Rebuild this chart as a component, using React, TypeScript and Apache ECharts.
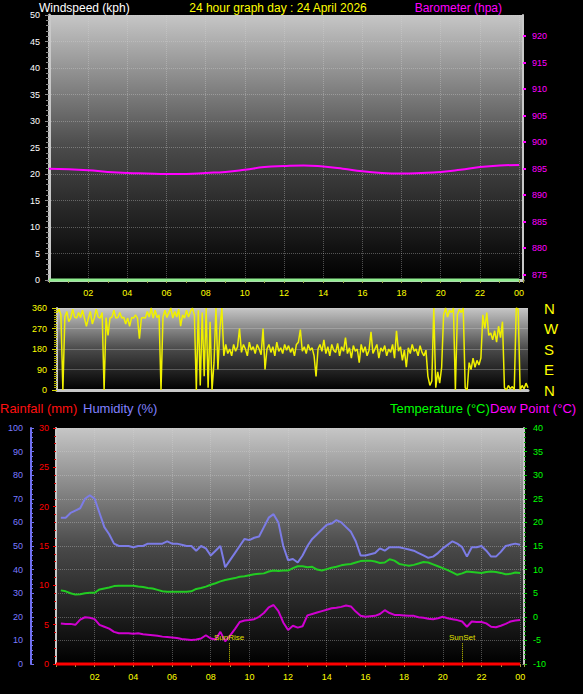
import { useEffect, useRef } from "react";
import * as echarts from "echarts";

const FONT = '"Liberation Sans", Arial, sans-serif';
const FRAME = "#c8c8c8";
const GRID_LINE = "rgba(215,215,215,0.35)";

// hourly readings (0h .. 24h)
const BAROMETER = [
    895.0, 894.9, 894.7, 894.4, 894.2, 894.1, 894.0, 894.0, 894.2, 894.4, 894.8, 895.3,
    895.5, 895.6, 895.4, 895.0, 894.5, 894.2, 894.1, 894.2, 894.4, 894.8, 895.3, 895.6, 895.7,
];
const WIND_SPEED = [0, 0, 0, 0, 0, 0, 0, 0, 0, 0, 0, 0, 0, 0, 0, 0, 0, 0, 0, 0, 0, 0, 0, 0, 0];
const RAINFALL = [0, 0, 0, 0, 0, 0, 0, 0, 0, 0, 0, 0, 0, 0, 0, 0, 0, 0, 0, 0, 0, 0, 0, 0, 0];

// wind direction every 0.1 h from 0h
const DIR_STEP = 0.1;
const DIRECTION = [
    340, 355, 330, 0, 320, 345, 300, 316, 355, 320, 316, 340, 318, 350, 316, 280, 316, 345, 290, 316,
    355, 320, 316, 340, 0, 318, 240, 316, 320, 350, 316, 318, 340, 316, 320, 290, 316, 280, 318, 316,
    330, 316, 225, 316, 318, 316, 345, 320, 360, 316, 350, 318, 330, 0, 320, 350, 318, 340, 360, 316,
    345, 320, 355, 280, 330, 316, 350, 320, 345, 360, 330, 0, 350, 20, 340, 60, 360, 10, 300, 0,
    120, 360, 90, 270, 360, 150, 200, 160, 180, 150, 200, 170, 190, 270, 165, 200, 180, 150, 210, 175,
    190, 160, 200, 180, 155, 270, 90, 180, 200, 165, 190, 150, 210, 170, 185, 160, 200, 175, 195, 165,
    185, 150, 200, 210, 265, 170, 190, 160, 200, 175, 185, 150, 60, 180, 200, 170, 220, 160, 190, 150,
    200, 175, 165, 205, 150, 190, 170, 230, 160, 185, 140, 195, 170, 180, 120, 200, 165, 190, 150, 175,
    255, 160, 180, 200, 140, 185, 170, 195, 150, 180, 165, 200, 140, 260, 170, 190, 130, 175, 100, 185,
    160, 200, 170, 180, 150, 195, 165, 150, 175, 60, 20, 40, 360, 10, 80, 30, 100, 330, 360, 320,
    350, 340, 360, 0, 330, 355, 340, 360, 10, 0, 120, 90, 140, 100, 130, 110, 140, 330, 270, 340,
    240, 250, 220, 260, 210, 280, 230, 300, 10, 0, 20, 5, 15, 0, 360, 355, 0, 20, 5, 30, 10,
];

// quarter-hour readings from 0.25h to 24h
const Q_STEP = 0.25;
const HUMIDITY = [
    62, 62, 64, 65, 66, 70, 71.5, 70, 64, 58, 55, 51, 50, 50, 50, 49.5, 50, 50, 51, 51,
    51, 51, 52, 51, 51, 50.5, 50, 50, 48, 50, 49, 46, 48, 50, 41, 44, 47, 50, 53, 52.5,
    53.5, 54, 58, 62, 63.5, 60, 50, 44, 44.5, 43, 46, 50, 53, 55, 57, 59, 59.5, 61, 60, 58,
    56, 52, 46, 46, 46.5, 47, 49, 48, 49.5, 49.5, 49.5, 49, 48.5, 48, 47, 46, 45, 45.5, 47, 49,
    50.5, 52, 51, 49.5, 45.5, 49.5, 49.5, 50, 48, 45.5, 45.5, 47.5, 50, 50.5, 51, 50.5,
];
const TEMPERATURE = [
    5.6, 5.4, 5.0, 4.7, 4.8, 5.0, 5.1, 5.1, 5.8, 6.0, 6.2, 6.5, 6.6, 6.6, 6.6, 6.6, 6.4, 6.3, 6.1, 6.0,
    5.7, 5.4, 5.3, 5.3, 5.3, 5.3, 5.3, 5.4, 5.9, 6.1, 6.4, 6.8, 7.1, 7.5, 7.8, 8.0, 8.2, 8.5, 8.6, 8.8,
    9.0, 9.1, 9.2, 9.6, 9.8, 9.7, 9.8, 9.8, 10.3, 10.7, 10.7, 10.5, 10.6, 10.0, 9.8, 10.1, 10.4, 10.6, 10.9, 11.1,
    11.2, 11.5, 11.8, 11.9, 11.9, 11.7, 11.4, 11.5, 12.2, 11.9, 11.2, 11.0, 10.8, 11.0, 11.3, 11.6, 11.5, 11.1, 10.7, 10.3,
    9.9, 9.4, 8.9, 9.2, 9.6, 9.5, 9.4, 9.3, 9.5, 9.6, 9.5, 9.3, 9.0, 9.1, 9.4, 9.3,
];
const DEW_POINT = [
    -1.4, -1.5, -1.5, -1.7, -0.6, -0.1, -0.2, -0.5, -1.7, -2.1, -2.5, -3.2, -3.5, -3.5, -3.5, -3.6, -3.5, -3.7, -3.8, -3.9,
    -4.0, -4.2, -4.3, -4.4, -4.5, -4.7, -4.8, -4.9, -4.8, -4.6, -3.9, -4.6, -4.8, -3.2, -5.2, -4.0, -2.6, -1.1, -0.8, -0.7,
    -0.5, 0.0, 0.8, 2.0, 2.5, 1.2, -1.2, -2.8, -1.9, -2.3, -2.0, 0.3, 0.6, 0.9, 1.2, 1.5, 1.8, 1.9, 2.1, 2.4,
    2.2, 1.1, 0.2, 0.0, 0.1, 0.2, 0.6, 1.4, 0.8, 0.4, 0.4, 0.3, 0.2, 0.2, -0.1, -0.2, -0.4, -0.5, -0.3, 0.0,
    -0.3, -0.5, -0.7, -1.0, -2.1, -1.0, -1.1, -1.1, -1.4, -2.1, -2.2, -1.9, -1.5, -1.0, -0.8, -0.7,
];

const SUNRISE = 8.95;
const SUNSET = 21.0;
const BARO_TICKS = [875, 880, 885, 890, 895, 900, 905, 910, 915, 920];
const COMPASS: Record<number, string> = { 360: "N", 270: "W", 180: "S", 90: "E", 0: "N" };

const hourly = (arr: number[]) => arr.map((v, i) => [i, v]);
const quarter = (arr: number[]) => arr.map((v, i) => [(i + 1) * Q_STEP, v]);
const hourLabel = (v: number) =>
    Number.isInteger(v) && v > 0 && v % 2 === 0 ? String(v % 24).padStart(2, "0") : "";

const panelBg = () =>
    new echarts.graphic.LinearGradient(0, 0, 0, 1, [
        { offset: 0, color: "#c6c6c6" },
        { offset: 0.5, color: "#4a4a4a" },
        { offset: 1, color: "#000000" },
    ]);

const title = (text: string, x: number, y: number, fill: string, size: number, align = "left") => ({
    type: "text",
    x,
    y,
    style: { text, fill, font: `${size}px ${FONT}`, textAlign: align, textVerticalAlign: "middle" },
});

export default function App() {
    const ref = useRef<HTMLDivElement>(null);

    useEffect(() => {
        if (!ref.current) return;
        const chart = echarts.init(ref.current, null, { renderer: "svg" });

        // max a bit past 24h so the panel reaches the right-hand frame
        const timeAxis = (gridIndex: number, max: number, showLabels: boolean, lineColor: string | null) => ({
            type: "value",
            gridIndex,
            min: 0,
            max,
            interval: 2,
            axisLine: lineColor
                ? { show: true, onZero: false, lineStyle: { color: lineColor, width: 3 } }
                : { show: false },
            axisTick: { show: showLabels, length: 3, lineStyle: { color: "#a0a040" } },
            minorTick: { show: showLabels, splitNumber: 2, length: 3, lineStyle: { color: "#a0a040" } },
            axisLabel: {
                show: showLabels,
                color: "#ffff00",
                fontSize: 9,
                margin: 8,
                showMaxLabel: false,
                formatter: hourLabel,
            },
            splitLine: { show: gridIndex !== 1, lineStyle: { color: GRID_LINE, type: "dotted" } },
        });

        chart.setOption({
            animation: false,
            backgroundColor: "#000000",
            textStyle: { fontFamily: FONT },
            grid: [
                { left: 49, top: 15, width: 474, height: 265, show: true, borderWidth: 0, backgroundColor: panelBg() },
                { left: 57, top: 308, width: 471, height: 82, show: true, borderWidth: 0, backgroundColor: panelBg() },
                { left: 56, top: 428, width: 468, height: 236, show: true, borderWidth: 0, backgroundColor: panelBg() },
            ],
            xAxis: [
                timeAxis(0, 24.2, true, FRAME),
                timeAxis(1, 24, false, FRAME),
                timeAxis(2, 24.2, true, null),
            ],
            yAxis: [
                {
                    type: "value", gridIndex: 0, position: "left", min: 0, max: 50, interval: 5,
                    axisLine: { show: true, lineStyle: { color: FRAME, width: 3 } },
                    axisTick: { show: true, length: 4, lineStyle: { color: "#8a8a8a" } },
                    minorTick: { show: true, splitNumber: 5, length: 3, lineStyle: { color: "#8a8a8a" } },
                    axisLabel: { color: "#ffffff", fontSize: 9, margin: 9 },
                    splitLine: { show: true, lineStyle: { color: GRID_LINE, type: "dotted" } },
                },
                {
                    type: "value", gridIndex: 0, position: "right", min: 874, max: 924,
                    axisLine: { show: true, lineStyle: { color: FRAME, width: 2 } },
                    axisTick: { show: true, length: 3, customValues: BARO_TICKS, lineStyle: { color: "#ff00ff", width: 2 } },
                    axisLabel: { color: "#ff00ff", fontSize: 9, margin: 9, customValues: BARO_TICKS },
                    splitLine: { show: false },
                },
                {
                    type: "value", gridIndex: 1, position: "left", min: 0, max: 360, interval: 90,
                    axisLine: { show: true, lineStyle: { color: FRAME, width: 2 } },
                    axisTick: { show: true, length: 5, lineStyle: { color: "#d8d800" } },
                    minorTick: { show: true, splitNumber: 9, length: 3, lineStyle: { color: "#b0b000" } },
                    axisLabel: { color: "#ffff00", fontSize: 9, margin: 10 },
                    splitLine: { show: true, lineStyle: { color: "rgba(220,220,220,0.3)" } },
                },
                {
                    type: "value", gridIndex: 1, position: "right", min: 0, max: 360, interval: 90,
                    axisLine: { show: false },
                    axisTick: { show: false },
                    axisLabel: { color: "#ffff00", fontSize: 15, margin: 16, formatter: (v: number) => COMPASS[v] ?? "" },
                    splitLine: { show: false },
                },
                {
                    type: "value", gridIndex: 2, position: "left", min: 0, max: 30, interval: 5,
                    axisLine: { show: true, lineStyle: { color: FRAME, width: 2 } },
                    axisTick: { show: true, length: 3, lineStyle: { color: "#ff0000" } },
                    minorTick: { show: true, splitNumber: 5, length: 2, lineStyle: { color: "#cc0000" } },
                    axisLabel: { color: "#ff0000", fontSize: 9, margin: 7 },
                    splitLine: { show: false },
                },
                {
                    type: "value", gridIndex: 2, position: "left", offset: 25, min: 0, max: 100, interval: 10,
                    axisLine: { show: true, lineStyle: { color: "#7070f0", width: 2 } },
                    axisTick: { show: true, inside: true, length: 3, lineStyle: { color: "#7070f0" } },
                    minorTick: { show: true, splitNumber: 5, length: 2, lineStyle: { color: "#7070f0" } },
                    axisLabel: { color: "#7b7bff", fontSize: 9, margin: 8 },
                    splitLine: { show: false },
                },
                {
                    type: "value", gridIndex: 2, position: "right", min: -10, max: 40, interval: 5,
                    axisLine: { show: true, lineStyle: { color: FRAME, width: 2 } },
                    axisTick: { show: true, length: 3, lineStyle: { color: "#00cc00" } },
                    minorTick: { show: true, splitNumber: 5, length: 2, lineStyle: { color: "#00aa00" } },
                    axisLabel: { color: "#00ff00", fontSize: 9, margin: 9 },
                    splitLine: { show: true, lineStyle: { color: GRID_LINE, type: "dotted" } },
                },
            ],
            graphic: [
                title("Windspeed (kph)", 39, 8, "#ffffff", 12),
                title("24 hour graph day : 24 April 2026", 278, 8, "#ffff00", 12, "center"),
                title("Barometer (hpa)", 502, 8, "#ff00ff", 12, "right"),
                title("Rainfall (mm)", 0, 408, "#ff1010", 13),
                title("Humidity (%)", 83, 408, "#8080ff", 13),
                title("Temperature (°C)", 390, 408, "#00ff00", 13),
                title("Dew Point (°C)", 490, 408, "#ff00ff", 13),
            ],
            series: [
                {
                    name: "Windspeed", type: "line", xAxisIndex: 0, yAxisIndex: 0, z: 5,
                    data: hourly(WIND_SPEED), showSymbol: false, clip: false,
                    lineStyle: { color: "#90ee90", width: 3 },
                },
                {
                    name: "Barometer", type: "line", xAxisIndex: 0, yAxisIndex: 1, smooth: true,
                    data: hourly(BAROMETER), showSymbol: false,
                    lineStyle: { color: "#ff00ff", width: 2 },
                },
                {
                    name: "Direction", type: "line", xAxisIndex: 1, yAxisIndex: 2,
                    data: DIRECTION.map((v, i) => [Math.round(i * DIR_STEP * 10) / 10, v]),
                    showSymbol: false,
                    lineStyle: { color: "#f0f000", width: 1.5 },
                },
                {
                    name: "Rainfall", type: "line", xAxisIndex: 2, yAxisIndex: 4, z: 5,
                    data: hourly(RAINFALL), showSymbol: false, clip: false,
                    lineStyle: { color: "#ff0000", width: 3 },
                },
                {
                    name: "Humidity", type: "line", xAxisIndex: 2, yAxisIndex: 5,
                    data: quarter(HUMIDITY), showSymbol: false,
                    lineStyle: { color: "#7c7ce6", width: 2 },
                },
                {
                    name: "Temperature", type: "line", xAxisIndex: 2, yAxisIndex: 6,
                    data: quarter(TEMPERATURE), showSymbol: false,
                    lineStyle: { color: "#22cc22", width: 2 },
                },
                {
                    name: "Dew Point", type: "line", xAxisIndex: 2, yAxisIndex: 6,
                    data: quarter(DEW_POINT), showSymbol: false,
                    lineStyle: { color: "#d000d0", width: 2 },
                    markLine: {
                        silent: true,
                        symbol: "none",
                        lineStyle: { color: "#c8c800", type: "dotted", width: 1 },
                        label: { show: true, position: "start", color: "#e0e000", fontSize: 8, distance: 2 },
                        data: [
                            [{ coord: [SUNRISE, -5.6], label: { formatter: "SunRise" } }, { coord: [SUNRISE, -10] }],
                            [{ coord: [SUNSET, -5.6], label: { formatter: "SunSet" } }, { coord: [SUNSET, -10] }],
                        ],
                    },
                },
            ],
        });

        return () => chart.dispose();
    }, []);

    return (
        <div
            ref={ref}
            style={{ position: "fixed", left: 0, top: 0, width: 583, height: 694, background: "#000" }}
        />
    );
}
